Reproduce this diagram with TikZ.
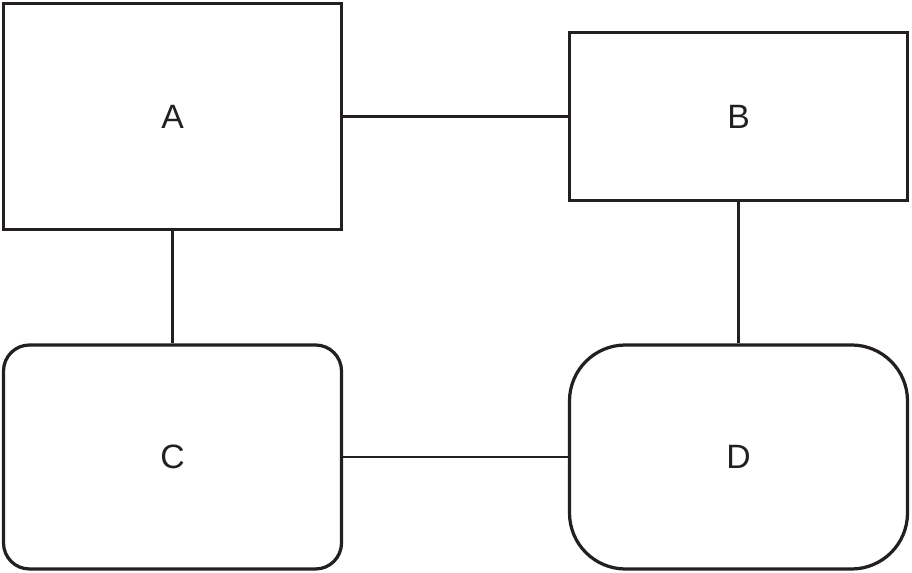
\documentclass[tikz,border=0pt]{standalone}
\usepackage{fontspec}
\setmainfont{Liberation Sans}
\usepackage{tikz}
\usetikzlibrary{positioning}
\definecolor{ink}{HTML}{231F20}

\begin{document}
\begin{tikzpicture}[
        box/.style={draw=ink, text=ink, line width=2.3pt, rectangle, minimum width=8.45cm, font=\fontsize{24}{28}\selectfont},
        roundbox/.style={box, rounded corners=0.65cm, minimum height=5.6cm}
    ]
        \useasboundingbox (0,0) rectangle (22.8,14.325);
        \node[box, minimum height=5.65cm] (a) at (4.3125,11.4125) {A};
        \node[box, minimum height=4.2cm] (b) at (18.4625,11.4125) {B};
        \node[roundbox] (c) at (4.3125,2.9) {C};
        \node[roundbox, rounded corners=1.4cm] (d) at (18.4625,2.9) {D};

        \draw[ink, line width=1.7pt] (a)--(b);
        \draw[ink, line width=1.7pt] (a)--(c);
        \draw[ink, line width=1.7pt] (b)--(d);
        \draw[ink, line width=1.7pt] (c)--(d);
    \end{tikzpicture}
\end{document}
